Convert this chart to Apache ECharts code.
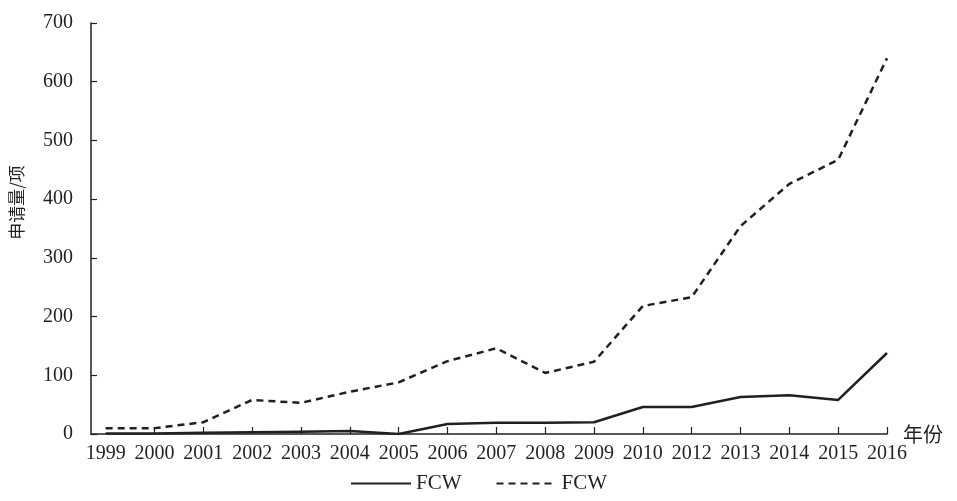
<!DOCTYPE html>
<html>
<head>
<meta charset="utf-8">
<script src="https://cdn.jsdelivr.net/npm/echarts@6/dist/echarts.min.js"></script>
<style>
html,body{margin:0;padding:0;background:#fff;}
#chart{width:957px;height:501px;}
</style>
</head>
<body>
<div id="chart"></div>
<script>
const years = ['1999','2000','2001','2002','2003','2004','2005','2006','2007','2008','2009','2010','2012','2013','2014','2015','2016'];
const solidValues = [1, 1, 2, 3, 4, 5, 0, 17, 19, 19, 20, 46, 46, 63, 66, 58, 138];
const dashedValues = [10, 10, 20, 58, 53, 72, 88, 124, 146, 104, 123, 218, 233, 354, 426, 467, 640];
const yTicks = [0, 100, 200, 300, 400, 500, 600, 700];
const seriesNames = ['FCW', 'FCW '];

const ink = '#231f20';
const serif = '"Liberation Serif", "Times New Roman", serif';
const cjk = '"Noto Sans CJK SC", sans-serif';

const toPairs = arr => arr.map((v, i) => [i, v]);
const idx = years.map((_, i) => i);

const chart = echarts.init(document.getElementById('chart'));
chart.setOption({
  animation: false,
  backgroundColor: '#fff',
  grid: {left: 91, right: 70, top: 23, bottom: 67, containLabel: false},
  legend: {
    data: seriesNames,
    bottom: 2,
    left: 'center',
    itemWidth: 60,
    itemHeight: 14,
    itemGap: 34,
    itemStyle: {opacity: 0},
    formatter: n => n.trim(),
    textStyle: {fontFamily: serif, fontSize: 21, color: ink}
  },
  xAxis: {
    type: 'value',
    min: -0.3,
    max: years.length - 1,
    name: '年份',
    nameLocation: 'end',
    nameGap: 16,
    nameTextStyle: {fontFamily: cjk, fontSize: 20, color: ink, verticalAlign: 'middle'},
    axisLine: {show: true, onZero: false, lineStyle: {color: ink, width: 1.5}},
    axisTick: {show: true, inside: true, length: 7, lineStyle: {color: ink, width: 1.2}, customValues: idx.slice(1)},
    axisLabel: {
      show: true, customValues: idx, margin: 10,
      fontFamily: serif, fontSize: 20, color: ink,
      formatter: v => years[Math.round(v)]
    },
    splitLine: {show: false}
  },
  yAxis: {
    type: 'value',
    min: 0,
    max: 700,
    interval: 100,
    name: '申请量/项',
    nameLocation: 'middle',
    nameRotate: 90,
    nameGap: 66,
    nameTextStyle: {fontFamily: cjk, fontSize: 17, color: ink, padding: [0, 0, 0, 52]},
    axisLine: {show: true, onZero: false, lineStyle: {color: ink, width: 1.5}},
    axisTick: {show: true, inside: true, length: 6, lineStyle: {color: ink, width: 1.2}},
    axisLabel: {margin: 18, fontFamily: serif, fontSize: 20, color: ink,
      formatter: v => yTicks.includes(v) ? String(v) : ''},
    splitLine: {show: false}
  },
  series: [
    {
      name: seriesNames[0], type: 'line', data: toPairs(solidValues),
      symbol: 'none', lineStyle: {color: ink, width: 2.5, type: 'solid'},
      itemStyle: {color: ink}
    },
    {
      name: seriesNames[1], type: 'line', data: toPairs(dashedValues),
      symbol: 'none', lineStyle: {color: ink, width: 2.5, type: [7, 5]},
      itemStyle: {color: ink}
    }
  ]
});
</script>
</body>
</html>
